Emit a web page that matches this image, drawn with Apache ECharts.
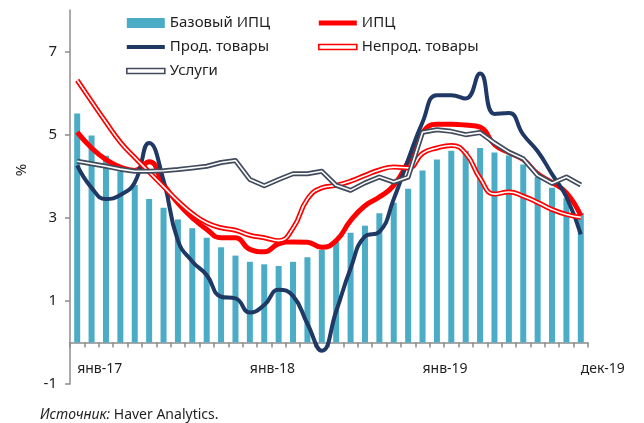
<!DOCTYPE html>
<html>
<head>
<meta charset="utf-8">
<script src="https://cdn.jsdelivr.net/npm/echarts@6/dist/echarts.min.js"></script>
<style>
  html, body { margin: 0; padding: 0; background: #fff; }
  #chart { width: 644px; height: 423px; }
</style>
</head>
<body>
<div id="chart"></div>
<script>
// месяцы янв-17 .. дек-19
const categories = [
  'янв-17','фев-17','мар-17','апр-17','май-17','июн-17','июл-17','авг-17','сен-17','окт-17','ноя-17','дек-17',
  'янв-18','фев-18','мар-18','апр-18','май-18','июн-18','июл-18','авг-18','сен-18','окт-18','ноя-18','дек-18',
  'янв-19','фев-19','мар-19','апр-19','май-19','июн-19','июл-19','авг-19','сен-19','окт-19','ноя-19','дек-19'
]

const yTicks = [-1, 1, 3, 5, 7]

// Базовый ИПЦ (столбцы)
const coreCpi = [
  5.51, 4.98, 4.49, 4.12, 3.79, 3.45, 3.24, 2.96, 2.75, 2.52, 2.29, 2.09,
  1.94, 1.88, 1.84, 1.94, 2.05, 2.23, 2.42, 2.64, 2.81, 3.11, 3.36, 3.70,
  4.14, 4.40, 4.61, 4.61, 4.68, 4.57, 4.50, 4.28, 3.98, 3.72, 3.47, 3.12
]

// ИПЦ
const cpi = [
  5.06, 4.68, 4.40, 4.22, 4.14, 4.35, 3.80, 3.35, 3.00, 2.72, 2.52, 2.52,
  2.24, 2.18, 2.37, 2.42, 2.41, 2.29, 2.45, 2.93, 3.29, 3.50, 3.78, 4.35,
  5.05, 5.25, 5.25, 5.23, 5.18, 4.76, 4.57, 4.40, 4.06, 3.85, 3.60, 3.05
]

// Прод. товары
const food = [
  4.26, 3.72, 3.45, 3.55, 3.85, 4.80, 3.90, 2.45, 1.95, 1.62, 1.10, 1.06,
  0.72, 0.90, 1.27, 1.12, 0.45, -0.20, 0.75, 1.78, 2.55, 2.66, 3.45, 4.40,
  5.30, 5.95, 5.95, 5.87, 6.47, 5.50, 5.52, 5.00, 4.60, 4.05, 3.50, 2.60
]

// Непрод. товары
const nonFood = [
  6.31, 5.80, 5.30, 4.82, 4.45, 4.10, 3.75, 3.40, 3.10, 2.88, 2.76, 2.70,
  2.58, 2.52, 2.45, 2.75, 3.45, 3.72, 3.78, 3.88, 4.02, 4.15, 4.22, 4.20,
  4.55, 4.68, 4.74, 4.55, 3.95, 3.57, 3.62, 3.52, 3.37, 3.20, 3.08, 3.01
]

// Услуги
const services = [
  4.36, 4.30, 4.24, 4.17, 4.12, 4.12, 4.13, 4.16, 4.20, 4.24, 4.33, 4.38,
  3.92, 3.77, 3.92, 4.06, 4.06, 4.12, 3.78, 3.66, 3.84, 3.98, 3.86, 3.98,
  5.06, 5.12, 5.08, 5.00, 5.05, 4.80, 4.58, 4.42, 4.02, 3.83, 3.98, 3.79
]

const FONT = 'Noto Sans'
const TEXT = '#1f1f1f'
const AXIS = '#8c8c8c'
const BAR = '#4bacc6'
const RED = '#ff0000'
const NAVY = '#1f3864'
const GREY = '#414b5c'
const icon5 = 'path://M0,0H38V5H0Z'
const icon4 = 'path://M0,0H38V4H0Z'

const chart = echarts.init(document.getElementById('chart'), null, { renderer: 'canvas' })

// двойная линия: цветная толстая + белая тонкая поверх
function doubleLine (name, data, color, smooth) {
  return [
    {
      name: name, type: 'line', data: data, smooth: smooth, symbol: 'none',
      lineStyle: { color: color, width: 5, join: 'round' }, itemStyle: { color: color }
    },
    {
      name: name + ' (в)', type: 'line', data: data, smooth: smooth, symbol: 'none',
      lineStyle: { color: '#ffffff', width: 1.6, join: 'round' }, itemStyle: { color: '#ffffff' }
    }
  ]
}

const legendText = { fontFamily: FONT, fontSize: 15, lineHeight: 16, color: TEXT }

const option = {
  animation: false,
  textStyle: { fontFamily: FONT },
  grid: { left: 70, right: 56, top: 10, bottom: 39 },
  title: {
    text: '{i|Источник:} Haver Analytics.',
    left: 35, top: 403,
    textStyle: {
      fontFamily: FONT, fontSize: 14, fontWeight: 'normal', color: TEXT,
      rich: { i: { fontFamily: FONT, fontSize: 14, fontStyle: 'italic', color: TEXT } }
    }
  },
  legend: [
    {
      left: 126, top: 15, orient: 'vertical', padding: 0,
      itemWidth: 38, itemHeight: 10, itemGap: 8,
      textStyle: legendText,
      data: [
        { name: 'Базовый ИПЦ', icon: 'rect', itemStyle: { color: BAR } },
        { name: 'Прод. товары', icon: icon4, itemStyle: { color: NAVY } },
        { name: 'Услуги', icon: icon5, itemStyle: { color: '#fff', borderColor: GREY, borderWidth: 1.6 } }
      ]
    },
    {
      left: 318, top: 15, orient: 'vertical', padding: 0,
      itemWidth: 38, itemHeight: 10, itemGap: 8,
      textStyle: legendText,
      data: [
        { name: 'ИПЦ', icon: icon5, itemStyle: { color: RED } },
        { name: 'Непрод. товары', icon: icon5, itemStyle: { color: '#fff', borderColor: RED, borderWidth: 1.6 } }
      ]
    }
  ],
  graphic: [
    {
      type: 'text', x: 22, y: 170, rotation: Math.PI / 2,
      style: { text: '%', fontFamily: FONT, fontSize: 15, fill: TEXT, align: 'center', verticalAlign: 'middle' }
    }
  ],
  xAxis: {
    type: 'category',
    data: categories,
    boundaryGap: true,
    axisLine: { onZero: true, lineStyle: { color: AXIS, width: 1.5 } },
    axisTick: { show: true, interval: 0, length: 5, lineStyle: { color: AXIS, width: 1.5 } },
    axisLabel: {
      interval: (idx) => idx % 12 === 0 || idx === categories.length - 1,
      align: 'left', margin: -22,
      fontFamily: FONT, fontSize: 14, color: TEXT
    },
    splitLine: { show: false }
  },
  yAxis: {
    type: 'value',
    min: -1, max: 8,
    axisLine: { show: true, lineStyle: { color: AXIS, width: 1.5 } },
    axisTick: { show: true, length: 5, customValues: yTicks, lineStyle: { color: AXIS, width: 1.5 } },
    axisLabel: { customValues: yTicks, margin: 13, fontFamily: FONT, fontSize: 15, color: TEXT },
    splitLine: { show: false }
  },
  series: [
    {
      name: 'Базовый ИПЦ', type: 'bar', data: coreCpi, barWidth: 6,
      itemStyle: { color: BAR }
    },
    {
      name: 'ИПЦ', type: 'line', data: cpi, smooth: true, symbol: 'none',
      lineStyle: { color: RED, width: 5, join: 'round' }, itemStyle: { color: RED }
    },
    {
      name: 'Прод. товары', type: 'line', data: food, smooth: true, symbol: 'none',
      lineStyle: { color: NAVY, width: 4, join: 'round' }, itemStyle: { color: NAVY }
    },
    ...doubleLine('Непрод. товары', nonFood, RED, true),
    ...doubleLine('Услуги', services, GREY, false)
  ]
}

chart.setOption(option)
</script>
</body>
</html>
